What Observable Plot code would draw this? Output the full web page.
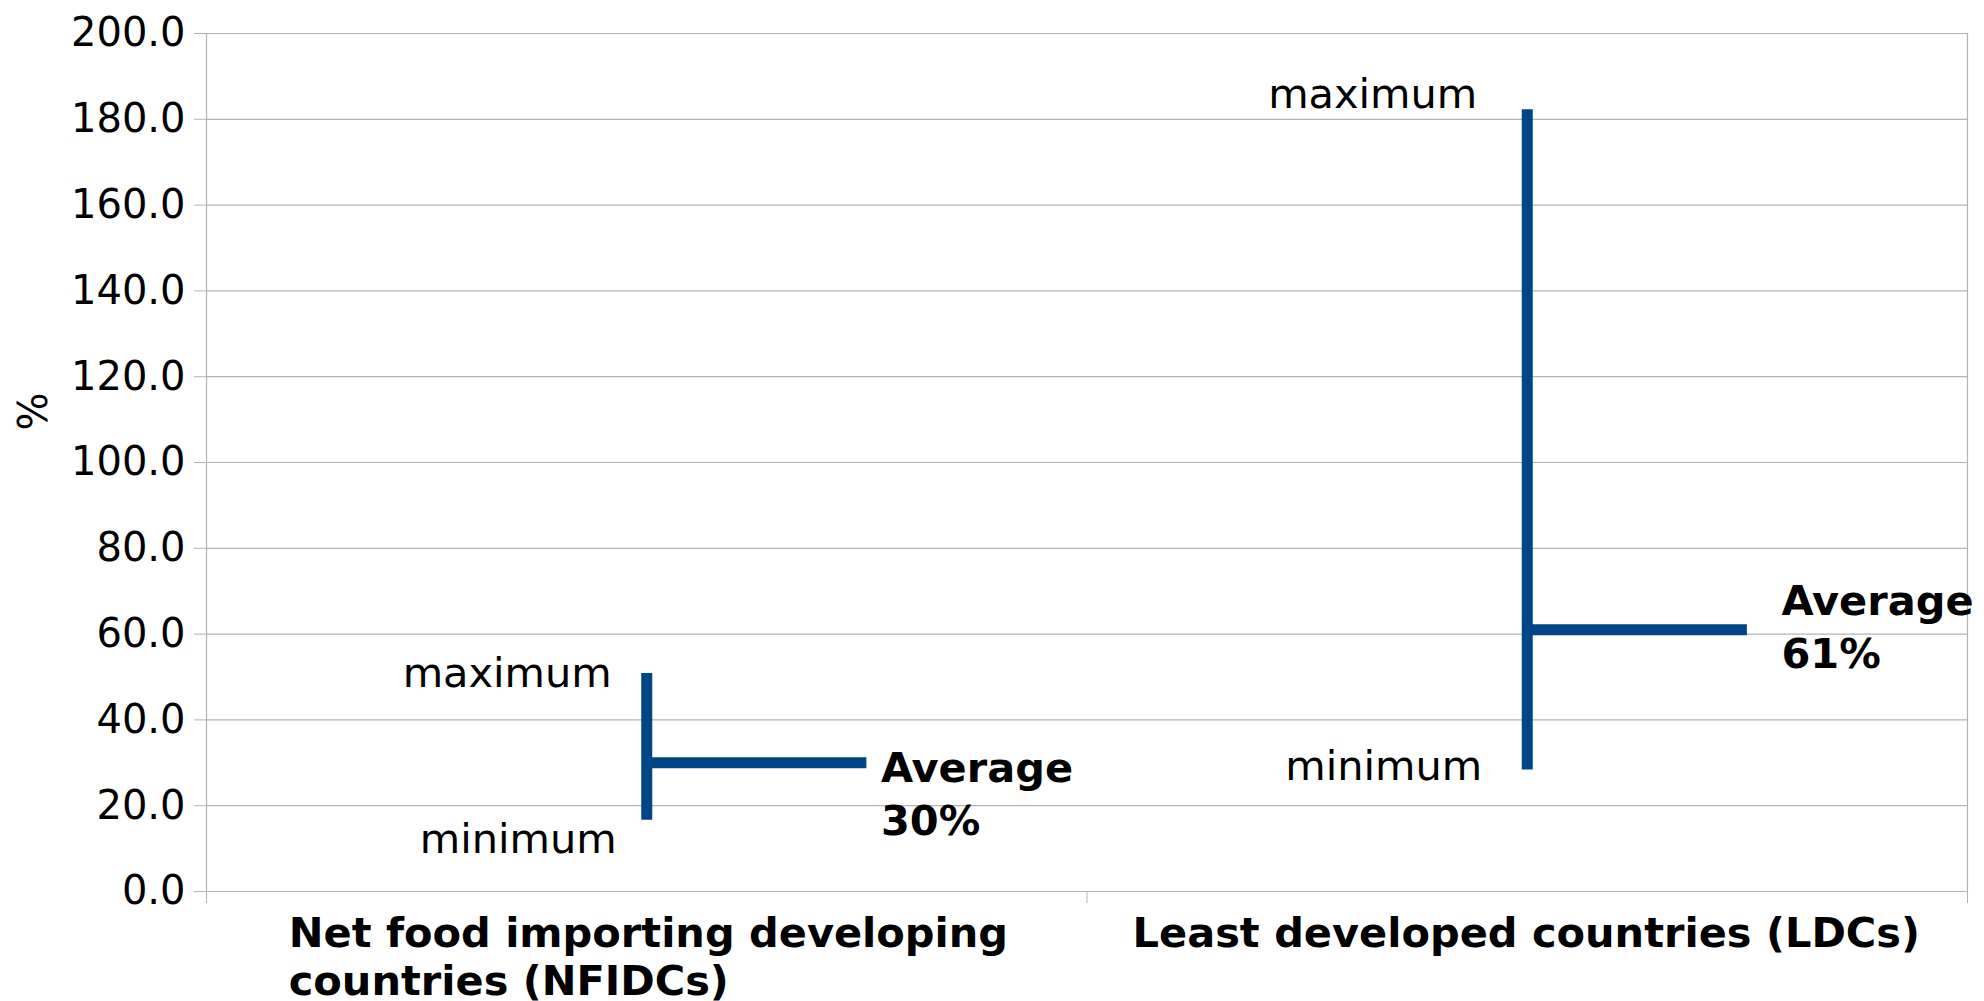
<!DOCTYPE html>
<html>
<head>
<meta charset="utf-8">
<script src="https://cdn.jsdelivr.net/npm/d3@7"></script>
<script src="https://cdn.jsdelivr.net/npm/@observablehq/plot@0.6"></script>
<style>
  html, body { margin: 0; padding: 0; background: #fff; }
  #chart svg { display: block; }
</style>
</head>
<body>
<div id="chart"></div>
<script>
// ---- data ----
const categories = ["Net food importing developing\ncountries (NFIDCs)", "Least developed countries (LDCs)"];
const maxima = [50.8, 182.2];
const minima = [16.6, 28.3];
const averages = [30, 61];
const averageLabels = ["Average\n30%", "Average\n61%"];
const maxLabel = "maximum";
const minLabel = "minimum";
const yTicks = [0, 20, 40, 60, 80, 100, 120, 140, 160, 180, 200];
const yLabel = "%";

// ---- table ----
const rows = categories.map((c, i) => ({
  category: c, pos: i + 0.5, max: maxima[i], min: minima[i], avg: averages[i], avgLabel: averageLabels[i]
}));

// ---- label placement (pixels) ----
const place = [
  {maxDx: -35, maxDy: 13, minDx: -30, minDy: 33, avgDx: 14, avgDy: 72, catAnchor: "start", catDx: -358},
  {maxDx: -50, maxDy: -2, minDx: -45, minDy: 10, avgDx: 34, avgDy: 38, catAnchor: "middle", catDx: -1}
];

const blue = "#004586";
const gray = "#b3b3b3";
const font = "'DejaVu Sans', sans-serif";

const labelMarks = rows.flatMap((r, i) => {
  const p = place[i];
  return [
    Plot.text([r], {x: "pos", y: "max", text: () => maxLabel, textAnchor: "end", lineAnchor: "bottom",
      dx: p.maxDx, dy: p.maxDy, fontSize: 41.5, fill: "#000"}),
    Plot.text([r], {x: "pos", y: "min", text: () => minLabel, textAnchor: "end", lineAnchor: "bottom",
      dx: p.minDx, dy: p.minDy, fontSize: 41.5, fill: "#000"}),
    Plot.text([r], {x: d => d.pos + 0.25, y: "avg", text: "avgLabel", textAnchor: "start", lineAnchor: "bottom",
      dx: p.avgDx, dy: p.avgDy, fontSize: 41.5, fontWeight: "bold", lineHeight: 1.27, fill: "#000"}),
    Plot.text([r], {x: "pos", text: "category", frameAnchor: "bottom", lineAnchor: "top",
      textAnchor: p.catAnchor, dx: p.catDx, dy: 21, fontSize: 41.5, fontWeight: "bold", lineHeight: 1.16, fill: "#000"})
  ];
});

const chart = Plot.plot({
  width: 1984,
  height: 1001,
  marginLeft: 206,
  marginRight: 17,
  marginTop: 33,
  marginBottom: 110,
  style: {fontFamily: font, fontSize: "40px", color: "#000", background: "#fff", overflow: "visible"},
  x: {domain: [0, categories.length], axis: null},
  y: {domain: [0, 200], axis: null},
  marks: [
    Plot.gridY(yTicks, {stroke: gray, strokeOpacity: 1, strokeWidth: 1.2}),
    Plot.ruleX([0, categories.length], {stroke: gray, strokeWidth: 1.2}),
    Plot.axisY({ticks: yTicks, tickFormat: d => d.toFixed(1), tickSize: 12, tickPadding: 9,
      stroke: gray, fill: "#000", fontSize: 40, label: null}),
    Plot.axisX({ticks: d3.range(categories.length + 1), tickFormat: () => "", tickSize: 12,
      stroke: gray, label: null}),
    Plot.ruleX(rows, {x: "pos", y1: "min", y2: "max", stroke: blue, strokeWidth: 11}),
    Plot.ruleY(rows, {y: "avg", x1: "pos", x2: d => d.pos + 0.25, stroke: blue, strokeWidth: 11}),
    ...labelMarks,
    Plot.text([yLabel], {frameAnchor: "left", text: d => d, rotate: -90, dx: -172, dy: -32, fontSize: 40, fill: "#000"})
  ]
});

document.getElementById("chart").appendChild(chart);
</script>
</body>
</html>
